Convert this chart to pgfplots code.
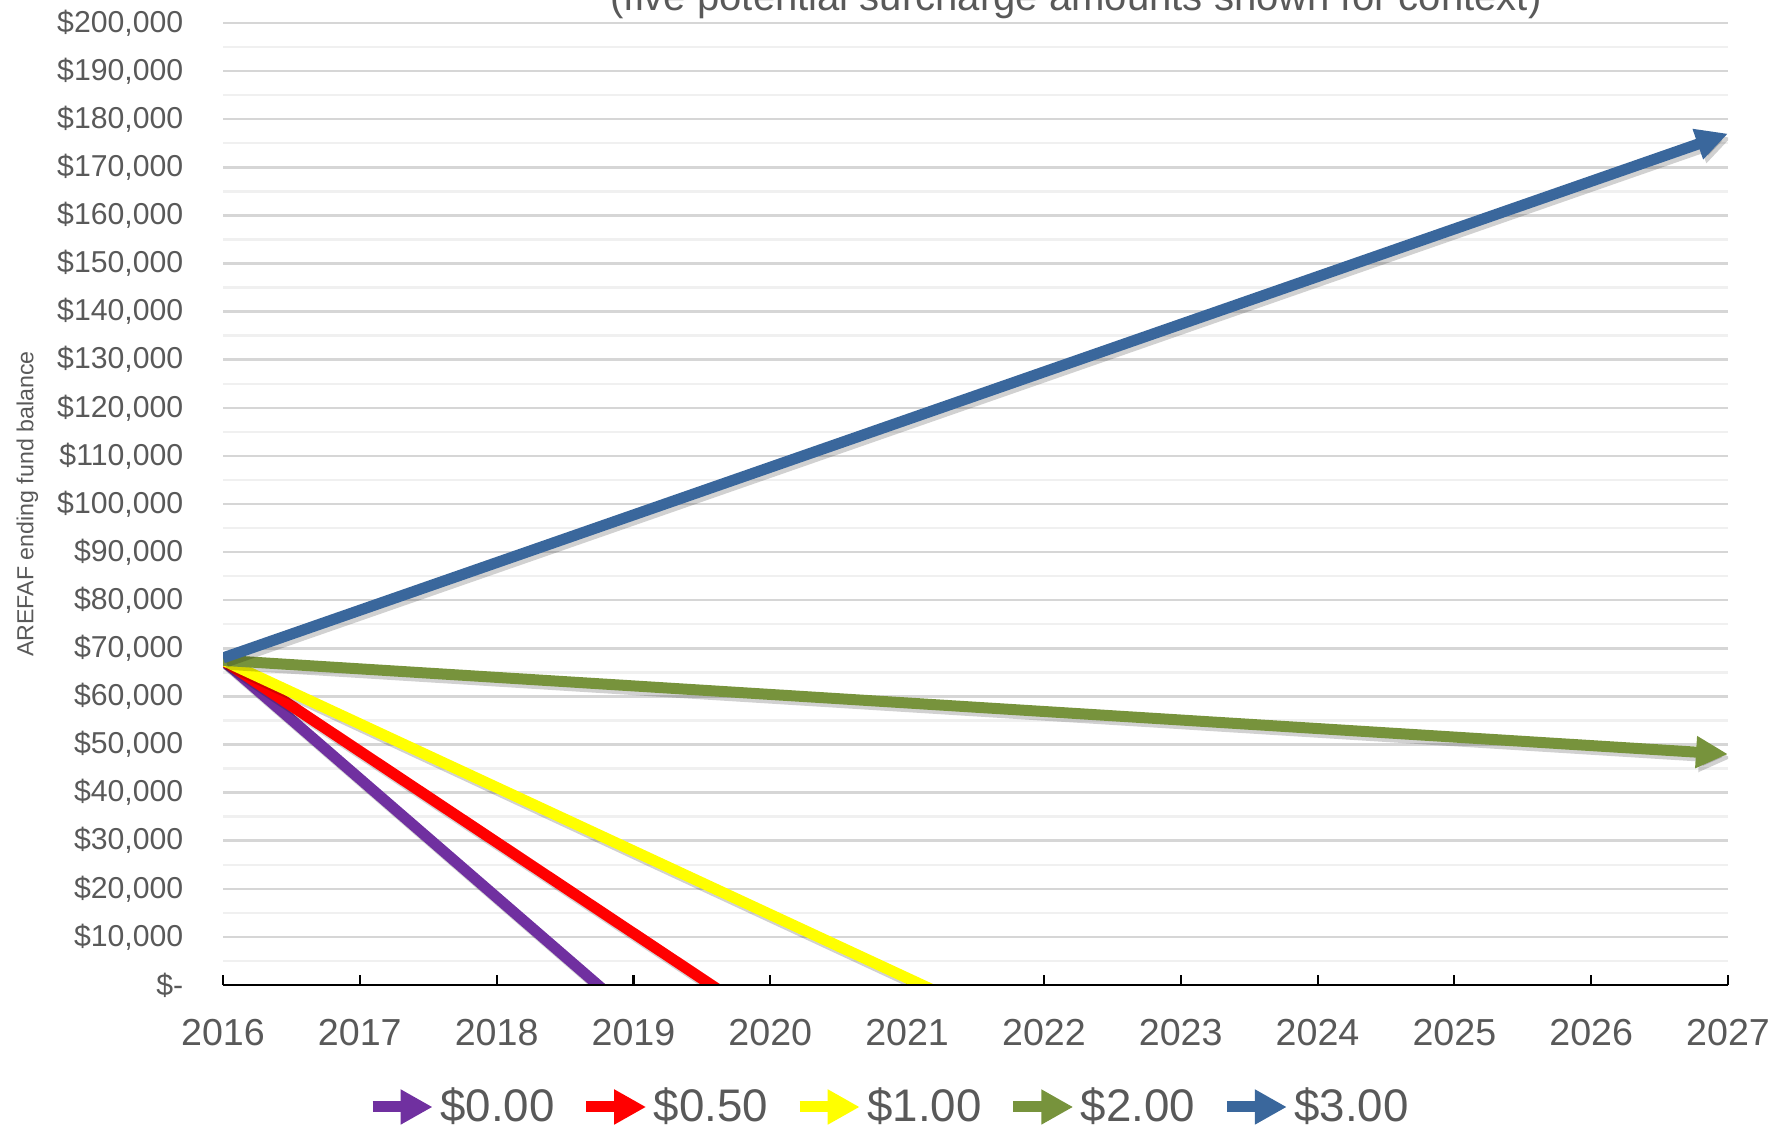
\documentclass[border=0pt]{standalone}
\usepackage{fontspec}
\setmainfont{Liberation Sans}
\usepackage{pgfplots}
\pgfplotsset{compat=1.18}
\usetikzlibrary{arrows.meta}
\definecolor{cPurple}{HTML}{7030A0}
\definecolor{cRed}{HTML}{FF0000}
\definecolor{cYellow}{HTML}{FFFF00}
\definecolor{cGreen}{HTML}{77933C}
\definecolor{cBlue}{HTML}{3A679C}
\definecolor{txtgray}{HTML}{595959}
\definecolor{gridmaj}{HTML}{D6D6D6}
\definecolor{gridmin}{HTML}{F0F0F0}
\def\shadowop{0.18}
\tikzset{lineshadow/.style={preaction={draw=black, opacity=\shadowop, transform canvas={xshift=0.9pt,yshift=-1.1pt}}}}
\begin{document}
\begin{tikzpicture}
\begin{axis}[
  name=ax,
  at={(2.23cm,1.46cm)}, anchor=south west,
  width=15.05cm, height=9.62cm, scale only axis,
  xmin=2016, xmax=2027, ymin=0, ymax=200000,
  axis line style={draw=none},
  xtick={2016,2017,2018,2019,2020,2021,2022,2023,2024,2025,2026,2027},
  xticklabels={2016,2017,2018,2019,2020,2021,2022,2023,2024,2025,2026,2027},
  xtick pos=left, xtick align=inside,
  major tick length=0.1cm,
  x tick style={black, line width=0.6pt},
  xticklabel style={font=\fontsize{10.7}{12}\selectfont, text=txtgray, yshift=-0.22cm},
  ytick={0,10000,20000,30000,40000,50000,60000,70000,80000,90000,100000,110000,120000,130000,140000,150000,160000,170000,180000,190000,200000},
  yticklabels={{\$-},{\$10,000},{\$20,000},{\$30,000},{\$40,000},{\$50,000},{\$60,000},{\$70,000},{\$80,000},{\$90,000},{\$100,000},{\$110,000},{\$120,000},{\$130,000},{\$140,000},{\$150,000},{\$160,000},{\$170,000},{\$180,000},{\$190,000},{\$200,000}},
  minor ytick={5000,15000,25000,35000,45000,55000,65000,75000,85000,95000,105000,115000,125000,135000,145000,155000,165000,175000,185000,195000},
  ytick pos=left,
  y tick style={draw=none},
  minor tick length=0pt,
  minor y tick style={draw=none},
  yticklabel style={font=\fontsize{8.6}{10}\selectfont, text=txtgray, anchor=east, inner sep=0pt, xshift=-0.39cm},
  ymajorgrids, yminorgrids,
  major grid style={gridmaj, line width=0.7pt},
  minor grid style={gridmin, line width=0.7pt},
  ylabel={AREFAF ending fund balance},
  ylabel style={at={(axis description cs:-0.13,0.5)}, anchor=center, font=\fontsize{6.6}{8}\selectfont, text=txtgray},
  legend style={at={(axis description cs:0.4425,-0.1268)}, anchor=center, draw=none, fill=none,
    legend columns=5, font=\fontsize{13}{15}\selectfont, text=txtgray,
    nodes={inner xsep=0.6pt},
    /tikz/every even column/.append style={column sep=0.24cm}},
  legend cell align=left,
  legend image code/.code={\def\shadowop{0}\draw[#1, line width=0.11cm, -{Triangle[length=0.32cm,width=0.33cm]}] (0cm,0cm) -- (0.6cm,0cm);},
]
\addplot[cPurple, line width=0.11cm, lineshadow] coordinates {(2016,67500) (2019,-6400)};
\addlegendentry{\$0.00}
\addplot[cRed, line width=0.11cm, lineshadow] coordinates {(2016,67500) (2020,-8130)};
\addlegendentry{\$0.50}
\addplot[cYellow, line width=0.11cm, lineshadow] coordinates {(2016,67500) (2022,-11755)};
\addlegendentry{\$1.00}
\addplot[cGreen, line width=0.11cm, lineshadow, -{Triangle[length=0.32cm,width=0.3cm]}] coordinates {(2016,67500) (2027,48000)};
\addlegendentry{\$2.00}
\addplot[cBlue, line width=0.11cm, lineshadow, -{Triangle[length=0.32cm,width=0.3cm]}] coordinates {(2016,68000) (2027,177000)};
\addlegendentry{\$3.00}
\end{axis}
\draw[black, line width=0.8pt] (ax.south west) -- (ax.south east);
\node[anchor=base, font=\fontsize{11.4}{13}\selectfont, text=txtgray] at (10.76cm,11.20cm) {(five potential surcharge amounts shown for context)};
\pgfresetboundingbox
\path[use as bounding box] (0,0) rectangle (17.87cm,11.31cm);
\end{tikzpicture}
\end{document}
